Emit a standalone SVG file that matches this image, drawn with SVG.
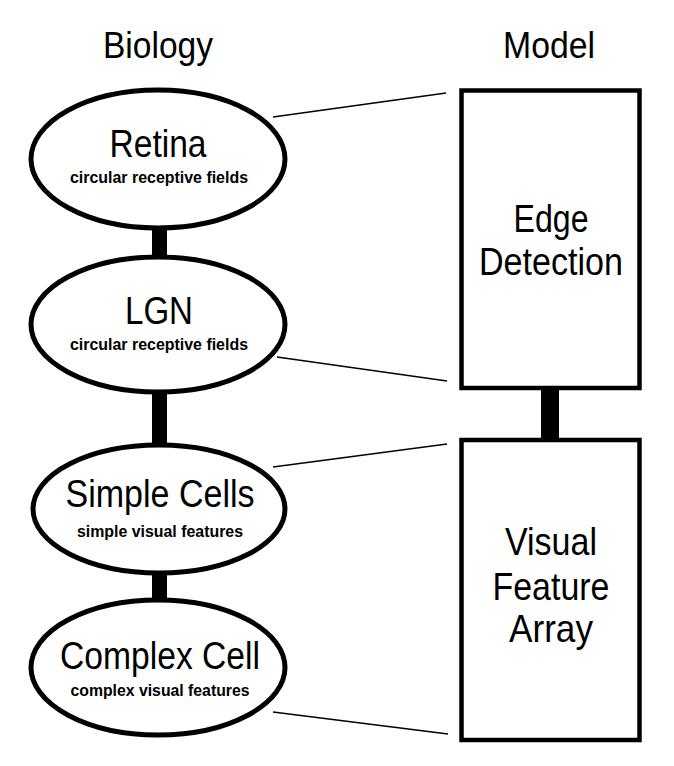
<svg xmlns="http://www.w3.org/2000/svg" width="674" height="766" viewBox="0 0 674 766">
<style>
.t{font-family:"Liberation Sans",Arial,sans-serif;fill:#000;text-anchor:middle}
.h{font-size:36px}
.big{font-size:39px}
.sub{font-size:16.5px;font-weight:bold}
.node{fill:#fff;stroke:#000;stroke-width:5}
.box{fill:#fff;stroke:#000;stroke-width:4.5}
.bar{fill:#000}
.link{stroke:#000;stroke-width:1.6;fill:none}
</style>
<rect width="674" height="766" fill="#fff"/>
<g id="titles">
<text class="t h" x="158" y="58" textLength="110" lengthAdjust="spacingAndGlyphs">Biology</text>
<text class="t h" x="549" y="58" textLength="92" lengthAdjust="spacingAndGlyphs">Model</text>
</g>
<g id="connectors">
<rect class="bar" x="152" y="226" width="15" height="33"/>
<rect class="bar" x="152" y="390" width="15" height="57"/>
<rect class="bar" x="152" y="571" width="15" height="31"/>
<rect class="bar" x="541" y="388" width="18" height="52"/>
<line class="link" x1="273" y1="117" x2="446" y2="93"/>
<line class="link" x1="277" y1="357" x2="447" y2="381"/>
<line class="link" x1="273" y1="467" x2="447" y2="444"/>
<line class="link" x1="273" y1="712" x2="448" y2="734"/>
</g>
<g id="retina">
<ellipse class="node" cx="158" cy="159" rx="127" ry="69"/>
<text class="t big" x="158" y="157" textLength="97" lengthAdjust="spacingAndGlyphs">Retina</text>
<text class="t sub" x="159" y="183" textLength="178" lengthAdjust="spacingAndGlyphs">circular receptive fields</text>
</g>
<g id="lgn">
<ellipse class="node" cx="158" cy="324.5" rx="127" ry="67.5"/>
<text class="t big" x="159" y="324" textLength="68" lengthAdjust="spacingAndGlyphs">LGN</text>
<text class="t sub" x="159" y="350" textLength="178" lengthAdjust="spacingAndGlyphs">circular receptive fields</text>
</g>
<g id="simple-cells">
<ellipse class="node" cx="159" cy="509" rx="126" ry="64"/>
<text class="t big" x="160" y="507" textLength="189" lengthAdjust="spacingAndGlyphs">Simple Cells</text>
<text class="t sub" x="160" y="537" textLength="166" lengthAdjust="spacingAndGlyphs">simple visual features</text>
</g>
<g id="complex-cell">
<ellipse class="node" cx="158" cy="667.5" rx="127" ry="67.5"/>
<text class="t big" x="160" y="669" textLength="200" lengthAdjust="spacingAndGlyphs">Complex Cell</text>
<text class="t sub" x="160" y="696" textLength="179" lengthAdjust="spacingAndGlyphs">complex visual features</text>
</g>
<g id="edge-detection">
<rect class="box" x="461.5" y="90.5" width="178" height="297.5"/>
<text class="t big" x="551" y="232" textLength="75" lengthAdjust="spacingAndGlyphs">Edge</text>
<text class="t big" x="551" y="275" textLength="144" lengthAdjust="spacingAndGlyphs">Detection</text>
</g>
<g id="visual-feature-array">
<rect class="box" x="461.5" y="440" width="178" height="300"/>
<text class="t big" x="551" y="555" textLength="92" lengthAdjust="spacingAndGlyphs">Visual</text>
<text class="t big" x="551" y="600" textLength="117" lengthAdjust="spacingAndGlyphs">Feature</text>
<text class="t big" x="551" y="642" textLength="84" lengthAdjust="spacingAndGlyphs">Array</text>
</g>
</svg>
